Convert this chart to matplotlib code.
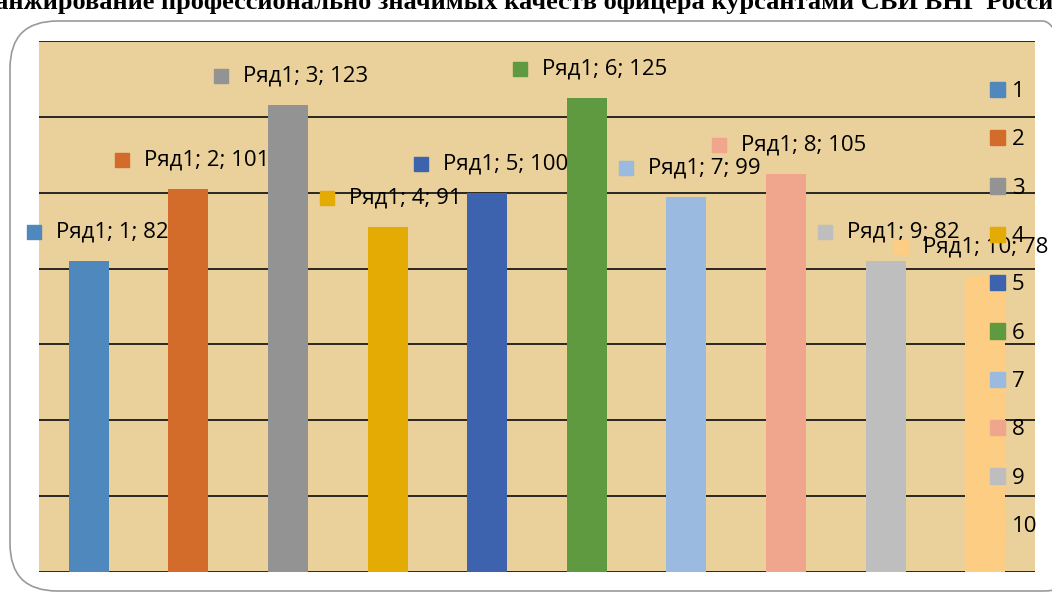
import matplotlib.pyplot as plt
from matplotlib.patches import FancyBboxPatch, Rectangle
from matplotlib.transforms import offset_copy

# data
categories = ["1", "2", "3", "4", "5", "6", "7", "8", "9", "10"]
values = [82, 101, 123, 91, 100, 125, 99, 105, 82, 78]
series_name = "Ряд1"
colors = ["#4F88BC", "#D36C2A", "#939393", "#E3AB03", "#3D63AE",
          "#5F9A40", "#9ABAE0", "#F0A68C", "#BEBEBE", "#FDCD84"]
title = "Ранжирование профессионально значимых качеств офицера курсантами СВИ ВНГ России"

W, H = 1052, 593
fig = plt.figure(figsize=(W / 100, H / 100), dpi=100)
fig.patch.set_facecolor("white")

# rounded frame around the chart
frame = FancyBboxPatch((10 / W, 2 / H), 1080 / W, 570 / H,
                       boxstyle="round,pad=0,rounding_size=0.045",
                       transform=fig.transFigure, facecolor="none",
                       edgecolor="#9a9a9a", linewidth=1.2, mutation_aspect=W / H)
fig.patches.append(frame)

ax = fig.add_axes([39 / W, (H - 572) / H, (1035 - 39) / W, (572 - 41) / H])
ax.set_facecolor("#EAD09A")

x = list(range(len(values)))
ax.bar(x, values, width=0.4, color=colors, zorder=3)

ax.set_xlim(-0.5, len(values) - 0.5)
ax.set_ylim(0, 140)
for yv in range(0, 141, 20):
    ax.axhline(yv, color="#1a1a1a", linewidth=1.3, zorder=2)
ax.set_xticks([])
ax.set_yticks([])
for s in ax.spines.values():
    s.set_visible(False)

fam = ["Open Sans", "DejaVu Sans"]
fs = 16
px = 0.72  # points per pixel at dpi 100

# data labels: text centred a little right of the bar, coloured square in front
nudge = {0: 6, 9: -18}
labels = []
for xi, v in zip(x, values):
    dx = (18 + nudge.get(xi, 0)) * px
    t = ax.text(xi, v, f"{series_name}; {xi + 1}; {v}",
                transform=offset_copy(ax.transData, fig=fig, x=dx, y=29 * px, units="points"),
                fontsize=fs, ha="center", va="center", zorder=5, clip_on=False, family=fam)
    labels.append(t)

fig.canvas.draw()
r = fig.canvas.get_renderer()
for t, c in zip(labels, colors):
    bb = t.get_window_extent(r)
    cy = (bb.y0 + bb.y1) / 2
    fig.patches.append(Rectangle(((bb.x0 - 29) / W, (cy - 7) / H), 14 / W, 14 / H,
                                 transform=fig.transFigure, color=c, zorder=5))

# legend on the right, drawn over the plot
handles = [Rectangle((0, 0), 1, 1, color=c) for c in colors]
leg = ax.legend(handles, categories, loc="upper left", bbox_to_anchor=(990 / W, (H - 81) / H),
                bbox_transform=fig.transFigure, frameon=False, prop={"family": fam, "size": fs},
                handlelength=0.68, handleheight=0.68, handletextpad=0.3, labelspacing=1.23,
                borderpad=0, borderaxespad=0)
leg.set_zorder(6)

fig.text(524 / W, (H - 3) / H, title, ha="center", va="center", fontsize=19,
         fontweight="bold", family=["Liberation Serif", "DejaVu Serif"])

fig.savefig("out.png", dpi=100)
